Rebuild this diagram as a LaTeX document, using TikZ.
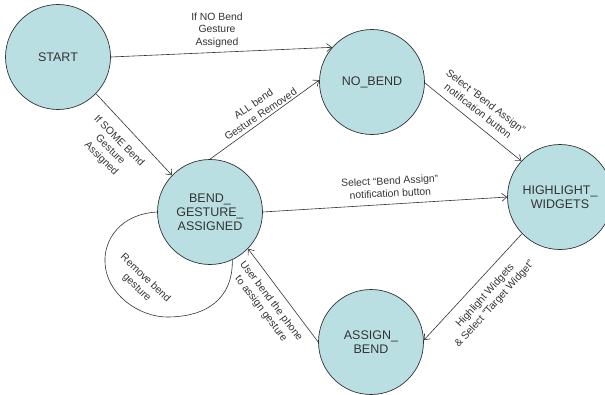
\documentclass[tikz,border=0pt]{standalone}
\usepackage{fontspec}
\setmainfont{Liberation Sans}
\usetikzlibrary{arrows.meta}
\definecolor{stfill}{HTML}{B9DFE2}
\definecolor{ink}{HTML}{333333}
\begin{document}
\begin{tikzpicture}[x=1pt,y=-1pt,
  state/.style={circle,draw=ink,fill=stfill,line width=0.7pt,minimum size=105pt,inner sep=0pt,align=center,
    font=\fontsize{12.5}{14}\selectfont,text=ink},
  edge/.style={draw=ink,line width=0.6pt,-{Straight Barb[length=5pt,width=8pt]}},
  loopline/.style={draw=ink,line width=0.6pt},
  lbl/.style={font=\fontsize{10.4}{12.6}\selectfont,text=ink,align=center,inner sep=1pt}]
\useasboundingbox (0,0) rectangle (605,394);
\clip (0,0) rectangle (605,394);

\node[state] (start) at (58,57) {START};
\node[state] (nobend) at (372,82) {NO\_BEND};
\node[state] (high) at (560,197) {HIGHLIGHT\_\\WIDGETS};
\node[state] (bga) at (210,212) {BEND\_\\GESTURE\_\\ASSIGNED};
\node[state] (ab) at (371,342) {ASSIGN\_\\BEND};

\draw[edge] (start.0) -- (nobend.139);
\draw[edge] (start.-44) -- (bga.136);
\draw[edge] (bga.90) -- (nobend.178);
\draw[edge] (nobend.-1) -- (high.137);
\draw[edge] (bga.0) -- (high.180);
\draw[edge] (high.224) -- (ab.2);
\draw[edge] (ab.180) -- (bga.-44);
\draw[loopline] (bga.180) .. controls (120,214) and (104,240) .. (105,262)
  .. controls (106,295) and (140,317) .. (167,317)
  .. controls (205,317) and (233,300) .. (bga.-65);

\node[lbl] (l1) at (217,30) {If NO Bend\\Gesture\\Assigned};
\node[lbl,rotate=-45] (l2) at (110,150) {If SOME Bend\\Gesture\\Assigned};
\node[lbl,rotate=34] (l3) at (257,109) {ALL bend\\Gesture Removed};
\node[lbl,rotate=-38] (l4) at (482,106) {Select “Bend Assign”\\notification button};
\node[lbl,rotate=3] (l5) at (390,187) {Select “Bend Assign”\\notification button};
\node[lbl,rotate=48] (l6) at (490,300) {Highlight Widgets\\\& Select “Target Widget”};
\node[lbl,rotate=-53] (l7) at (266,305) {User bend the phone\\to assign gesture};
\node[lbl,rotate=-44] (l8) at (141,283) {Remove bend\\gesture};
\end{tikzpicture}
\end{document}
